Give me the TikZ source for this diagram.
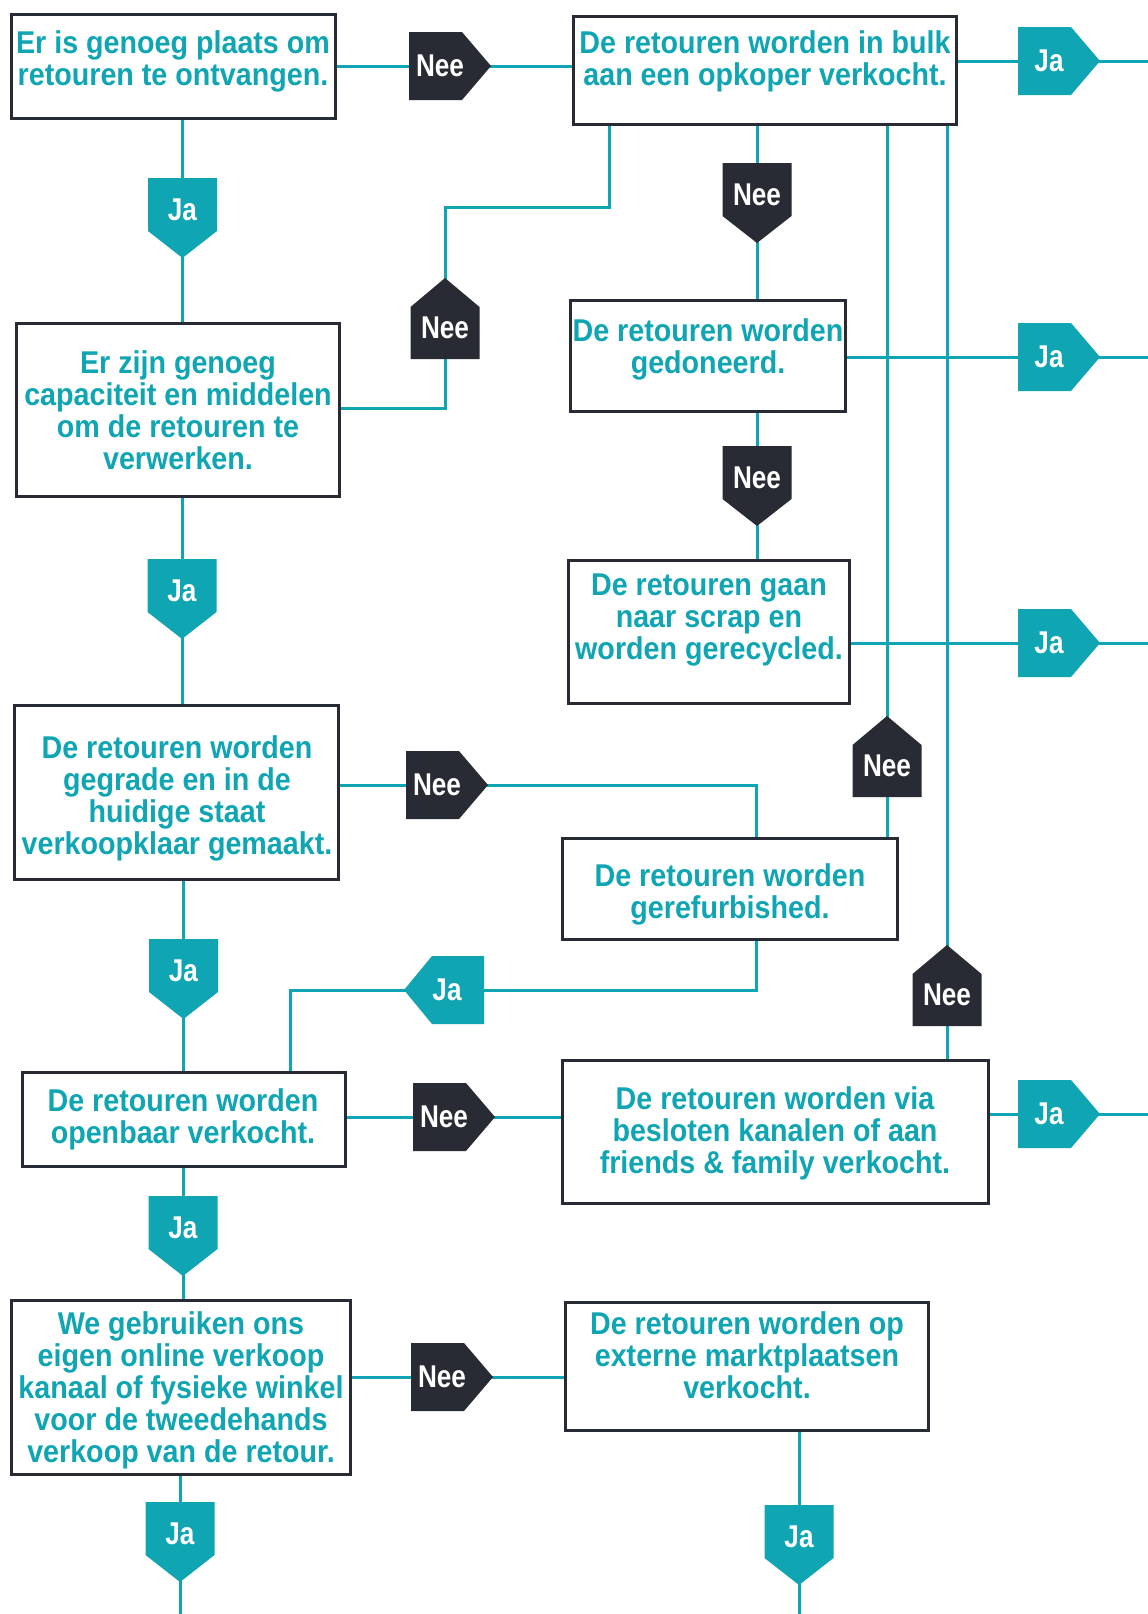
\documentclass[tikz,border=0pt]{standalone}
\usepackage{fontspec}
\usetikzlibrary{fit}
\newfontfamily\boxfont{Liberation Sans}[FakeStretch=0.91]
\newfontfamily\tagfont{Liberation Sans}[FakeStretch=0.83]
\definecolor{tl}{HTML}{10A5B2}
\definecolor{dk}{HTML}{282B33}
\pgfdeclarelayer{bg}
\pgfsetlayers{bg,main}
\tikzset{
  box/.style={draw=dk, line width=3pt, fill=white, inner sep=0pt},
  txt/.style={anchor=north, align=center, inner sep=0pt, text=tl,
    font=\boxfont\bfseries\fontsize{31.5}{32}\selectfont,
    execute at begin node={\rule{0pt}{24pt}}},
  tagtxt/.style={inner sep=0pt, text=white, font=\tagfont\bfseries\fontsize{31.5}{32}\selectfont},
  conn/.style={draw=tl, line width=3pt}
}
% tag pointing right: name, body-left x, centre y, text, colour
\newcommand\TagRt[5]{%
  \fill[#5] (#2,{#3-34}) -- ({#2+53},{#3-34}) -- ({#2+82},#3) -- ({#2+53},{#3+34}) -- (#2,{#3+34}) -- cycle;
  \node[tagtxt] (#1) at ({#2+31},#3) {#4};}
% tag pointing left: name, body-right x, centre y, text, colour
\newcommand\TagLf[5]{%
  \fill[#5] (#2,{#3-34}) -- ({#2-52},{#3-34}) -- ({#2-80},#3) -- ({#2-52},{#3+34}) -- (#2,{#3+34}) -- cycle;
  \node[tagtxt] (#1) at ({#2-37},#3) {#4};}
% tag pointing down: name, centre x, body-top y, text, colour
\newcommand\TagDn[5]{%
  \fill[#5] ({#2-34.5},#3) -- ({#2+34.5},#3) -- ({#2+34.5},{#3+53}) -- (#2,{#3+80}) -- ({#2-34.5},{#3+53}) -- cycle;
  \node[tagtxt] (#1) at (#2,{#3+32}) {#4};}
% tag pointing up: name, centre x, tip y, text, colour
\newcommand\TagUp[5]{%
  \fill[#5] (#2,#3) -- ({#2+34.5},{#3+29}) -- ({#2+34.5},{#3+81}) -- ({#2-34.5},{#3+81}) -- ({#2-34.5},{#3+29}) -- cycle;
  \node[tagtxt] (#1) at (#2,{#3+50}) {#4};}
\begin{document}
\begin{tikzpicture}[x=1pt,y=-1pt]
\useasboundingbox (0,0) rectangle (1148,1614);
\coordinate (redge) at (1150,0);
\coordinate (bedge) at (0,1616);

% boxes
\node[box, fit={(11.5,14.5) (335.5,118.5)}] (A) {};
\node[box, fit={(573.5,16.5) (956.5,124.5)}] (B) {};
\node[box, fit={(570.5,300.5) (845.5,411.5)}] (D) {};
\node[box, fit={(568.5,560.5) (849.5,703.5)}] (S) {};
\node[box, fit={(16.5,323.5) (339.5,496.5)}] (A2) {};
\node[box, fit={(14.5,705.5) (338.5,879.5)}] (A3) {};
\node[box, fit={(562.5,838.5) (897.5,939.5)}] (R) {};
\node[box, fit={(22,1072.5) (345.5,1166.5)}] (A4) {};
\node[box, fit={(562.5,1060.5) (988.5,1203.5)}] (F) {};
\node[box, fit={(11.5,1300.5) (350.5,1474.5)}] (A5) {};
\node[box, fit={(565.5,1302.5) (928.5,1430.5)}] (E) {};

% texts
\node[txt] (At) at (173,30) {Er is genoeg plaats om\\retouren te ontvangen.};
\node[txt] (Bt) at (765,30) {De retouren worden in bulk\\aan een opkoper verkocht.};
\node[txt] (Dt) at (708,318) {De retouren worden\\gedoneerd.};
\node[txt] (St) at (709,574) {De retouren gaan\\naar scrap en\\worden gerecycled.};
\node[txt] (A2t) at (178,350) {Er zijn genoeg\\capaciteit en middelen\\om de retouren te\\verwerken.};
\node[txt] (A3t) at (177,735) {De retouren worden\\gegrade en in de\\huidige staat\\verkoopklaar gemaakt.};
\node[txt] (Rt) at (730,863) {De retouren worden\\gerefurbished.};
\node[txt] (A4t) at (183,1088) {De retouren worden\\openbaar verkocht.};
\node[txt] (Ft) at (775,1086) {De retouren worden via\\besloten kanalen of aan\\friends \& family verkocht.};
\node[txt] (A5t) at (181,1311) {We gebruiken ons\\eigen online verkoop\\kanaal of fysieke winkel\\voor de tweedehands\\verkoop van de retour.};
\node[txt] (Et) at (747,1311) {De retouren worden op\\externe marktplaatsen\\verkocht.};

% tags
\TagRt{nee1}{409}{66}{Nee}{dk}
\TagRt{ja1}{1018}{61}{Ja}{tl}
\TagRt{ja2}{1018}{357}{Ja}{tl}
\TagRt{ja3}{1018}{643}{Ja}{tl}
\TagRt{nee5}{406}{785}{Nee}{dk}
\TagRt{ja6}{1018}{1114}{Ja}{tl}
\TagRt{nee6}{413}{1117}{Nee}{dk}
\TagRt{nee7}{411}{1377}{Nee}{dk}
\TagLf{jaL}{484}{990}{Ja}{tl}
\TagDn{jaA}{182.5}{178}{Ja}{tl}
\TagDn{jaA2}{182}{559}{Ja}{tl}
\TagDn{jaA3}{183.5}{939}{Ja}{tl}
\TagDn{jaA4}{183}{1196}{Ja}{tl}
\TagDn{jaA5}{180}{1502}{Ja}{tl}
\TagDn{jaE}{799}{1505}{Ja}{tl}
\TagDn{neeB}{757}{163}{Nee}{dk}
\TagDn{neeD}{757}{446}{Nee}{dk}
\TagUp{neeUp1}{445}{278}{Nee}{dk}
\TagUp{neeUp2}{887}{716}{Nee}{dk}
\TagUp{neeUp3}{947}{945}{Nee}{dk}

% connectors
\coordinate (k1) at (445,408);
\coordinate (k2) at (445,207);
\coordinate (k3) at (609,207);
\coordinate (k4) at (756,785);
\coordinate (k5) at (756,990);
\coordinate (k6) at (290,990);
\begin{pgfonlayer}{bg}
\fill[white] (0,0) rectangle (1148,1614);
\draw[conn] (A.east |- nee1) -- (nee1) -- (B.west |- nee1);
\draw[conn] (B.east |- ja1) -- (ja1) -- (ja1 -| redge);
\draw[conn] (A.south -| jaA) -- (jaA) -- (A2.north -| jaA);
\draw[conn] (A2.east |- k1) -- (k1) -- (neeUp1) -- (k2) -- (k3) -- (B.south -| k3);
\draw[conn] (B.south -| neeB) -- (neeB) -- (D.north -| neeB);
\draw[conn] (D.east |- ja2) -- (ja2) -- (ja2 -| redge);
\draw[conn] (D.south -| neeD) -- (neeD) -- (S.north -| neeD);
\draw[conn] (S.east |- ja3) -- (ja3) -- (ja3 -| redge);
\draw[conn] (A2.south -| jaA2) -- (jaA2) -- (A3.north -| jaA2);
\draw[conn] (A3.east |- nee5) -- (nee5) -- (k4) -- (R.north -| k4);
\draw[conn] (R.north -| neeUp2) -- (neeUp2) -- (B.south -| neeUp2);
\draw[conn] (R.south -| k5) -- (k5) -- (jaL) -- (k6) -- (A4.north -| k6);
\draw[conn] (A3.south -| jaA3) -- (jaA3) -- (A4.north -| jaA3);
\draw[conn] (A4.east |- nee6) -- (nee6) -- (F.west |- nee6);
\draw[conn] (F.north -| neeUp3) -- (neeUp3) -- (B.south -| neeUp3);
\draw[conn] (F.east |- ja6) -- (ja6) -- (ja6 -| redge);
\draw[conn] (A4.south -| jaA4) -- (jaA4) -- (A5.north -| jaA4);
\draw[conn] (A5.east |- nee7) -- (nee7) -- (E.west |- nee7);
\draw[conn] (A5.south -| jaA5) -- (jaA5) -- (jaA5 |- bedge);
\draw[conn] (E.south -| jaE) -- (jaE) -- (jaE |- bedge);
\end{pgfonlayer}
\end{tikzpicture}
\end{document}
